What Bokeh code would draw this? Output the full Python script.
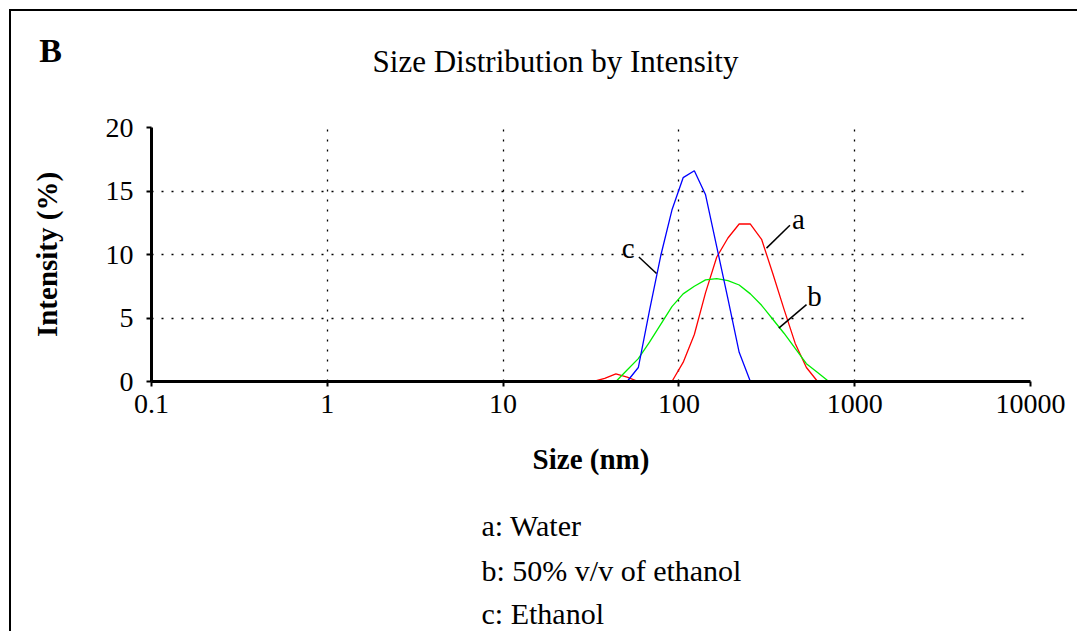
from bokeh.plotting import figure
from bokeh.models import Label, FixedTicker, Range1d
from bokeh.embed import file_html
from bokeh.resources import INLINE

# ---------------- data ----------------
size_nm = [32.67, 37.84, 43.82, 50.75, 58.77, 68.06, 78.82, 91.28, 105.7, 122.4,
           141.8, 164.2, 190.1, 220.2, 255.0, 295.3, 342.0, 396.1, 458.7, 531.2,
           615.1, 712.4, 825.0]
water = [0, 0.25, 0.6, 0.35, 0, 0, 0, 0, 1.5, 3.7,
         7.0, 9.8, 11.3, 12.4, 12.4, 11.2, 8.5, 5.7, 3.0, 1.1,
         0, 0, 0]
ethanol_50 = [0, 0, 0, 0.9, 1.8, 3.1, 4.5, 5.9, 6.9, 7.5,
              8.0, 8.1, 7.95, 7.6, 6.9, 6.0, 4.9, 3.8, 2.6, 1.4,
              0.7, 0, 0]
ethanol = [0, 0, 0, 0, 1.1, 5.6, 9.9, 13.5, 16.05, 16.6,
           14.7, 10.6, 6.5, 2.3, 0, 0, 0, 0, 0, 0,
           0, 0, 0]

x_ticks = [0.1, 1, 10, 100, 1000, 10000]
x_tick_labels = ["0.1", "1", "10", "100", "1000", "10000"]
y_ticks = [0, 5, 10, 15, 20]
legend_lines = ["a: Water", "b: 50% v/v of ethanol", "c: Ethanol"]

# curve tags and pointer lines (data coordinates)
tag_text = ["a", "b", "c"]
tag_x = [478, 590, 51.5]
tag_y = [12.8, 6.7, 10.5]
ptr_x0 = [428, 532, 59.2]
ptr_y0 = [12.3, 6.05, 9.8]
ptr_x1 = [315, 370, 74.6]
ptr_y1 = [10.5, 4.2, 8.5]

FONT = "Liberation Serif"

# ---------------- geometry (canvas starts 11px in, inside the page frame) ----------------
OFF = 11
W, H = 1084 - OFF, 633 - OFF
FL, FT, FW, FH = 151 - OFF, 127 - OFF, 879, 254
FB = FT + FH
XMIN, XMAX, YMIN, YMAX = 0.1, 10000, 0, 20

p = figure(width=W, height=H, x_axis_type="log",
           x_range=Range1d(XMIN, XMAX), y_range=Range1d(YMIN, YMAX),
           min_border_left=FL, min_border_right=W - FL - FW,
           min_border_top=FT, min_border_bottom=H - FB,
           output_backend="svg", toolbar_location=None)
p.outline_line_color = None
# thin frame on the left and top edges of the panel; trim the right edge
p.styles = {"border-left": "2px solid black", "border-top": "2px solid black",
            "margin-left": "9px", "margin-top": "9px",
            "clip-path": "inset(0px 5px 0px 0px)"}

# grid
p.xgrid.ticker = FixedTicker(ticks=x_ticks[1:])
p.ygrid.ticker = FixedTicker(ticks=y_ticks[1:])
for g in (p.xgrid, p.ygrid):
    g.grid_line_color = "black"
    g.grid_line_dash = "2 8"
    g.grid_line_width = 1.3
    g.grid_line_alpha = 1.0

# axes
p.xaxis.ticker = FixedTicker(ticks=x_ticks)
p.xaxis.major_label_overrides = dict(zip(x_ticks, x_tick_labels))
p.yaxis.ticker = FixedTicker(ticks=y_ticks)
for ax in (p.xaxis, p.yaxis):
    ax.axis_line_width = 3
    ax.axis_line_color = "black"
    ax.major_tick_line_width = 2
    ax.major_tick_out = 5
    ax.major_tick_in = 0
    ax.minor_tick_line_color = None
    ax.major_label_text_font = FONT
    ax.major_label_text_font_size = "28px"
    ax.major_label_text_color = "black"
    ax.axis_label_text_font = FONT
    ax.axis_label_text_font_size = "29px"
    ax.axis_label_text_font_style = "bold"
    ax.axis_label_text_color = "black"
p.xaxis.axis_label = "Size (nm)"
p.yaxis.axis_label = "Intensity (%)"
p.xaxis.major_label_standoff = 8
p.xaxis.axis_label_standoff = 27
p.yaxis.major_label_standoff = 13
p.yaxis.axis_label_standoff = 40

# curves
p.line(size_nm, water, line_color="#ff0000", line_width=1.3)
p.line(size_nm, ethanol_50, line_color="#00ee00", line_width=1.3)
p.line(size_nm, ethanol, line_color="#0000ff", line_width=1.3)

# pointers and tags
p.segment(x0=ptr_x0, y0=ptr_y0, x1=ptr_x1, y1=ptr_y1, line_color="black", line_width=1.5)
for t, x, y in zip(tag_text, tag_x, tag_y):
    p.add_layout(Label(x=x, y=y, text=t, text_font=FONT, text_font_size="29px",
                       text_align="center", text_baseline="middle", text_color="black"))

# panel letter and title (above the frame)
p.add_layout(Label(x=-101, y=77, x_units="screen", y_units="screen", text="B",
                   text_font=FONT, text_font_size="34px", text_font_style="bold",
                   text_align="center", text_baseline="middle", text_color="black"), "above")
p.add_layout(Label(x=404, y=29, x_units="screen", y_units="screen",
                   text="Size Distribution by Intensity",
                   text_font=FONT, text_font_size="31px",
                   text_align="center", text_baseline="middle", text_color="black"), "above")

# legend text block (below the axis)
legend_y = [-15, -27, -37]
for s, y in zip(legend_lines, legend_y):
    p.add_layout(Label(x=330, y=y, x_units="screen", y_units="screen",
                       text=s, text_font=FONT, text_font_size="30px", text_align="left",
                       text_baseline="middle", text_color="black"), "below")

open("out.html", "w").write(file_html(p, INLINE))
